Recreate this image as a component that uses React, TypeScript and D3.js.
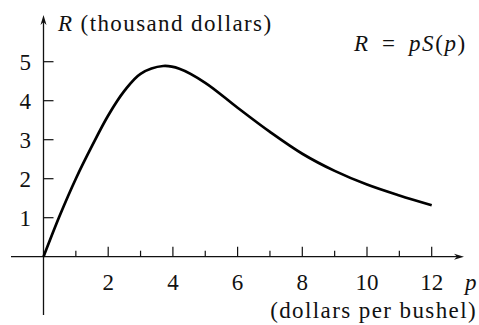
import React from "react";
import * as d3 from "d3";

// Revenue R = p·S(p), in thousands of dollars, against price p (dollars per bushel)
const prices = [0, 0.5, 1, 1.5, 2, 2.5, 3, 3.7, 4.2, 5, 6, 7, 8, 9, 10, 11, 12];
const revenue = [0, 1.05, 2.0, 2.84, 3.62, 4.25, 4.69, 4.89, 4.82, 4.46, 3.82, 3.2, 2.64, 2.2, 1.85, 1.57, 1.32];

const xTicks = [1, 2, 3, 4, 5, 6, 7, 8, 9, 10, 11, 12];
const xLabels = [2, 4, 6, 8, 10, 12];
const yTicks = [1, 2, 3, 4, 5];

const W = 479;
const H = 325;
const FONT = "Liberation Serif, DejaVu Serif, serif";

export default function App() {
  const x = d3.scaleLinear().domain([0, 12]).range([43.5, 431.7]);
  const y = d3.scaleLinear().domain([0, 5]).range([256.7, 61.7]);

  const pts: [number, number][] = prices.map((p, i) => [p, revenue[i]]);
  const line = d3
    .line<[number, number]>()
    .x((d) => x(d[0]))
    .y((d) => y(d[1]))
    .curve(d3.curveCatmullRom.alpha(0.5));

  const x0 = x(0);
  const y0 = y(0);
  const axisColor = "#111";
  const txt = { fontFamily: FONT, fontSize: 23, fill: "#111" } as const;
  const wide = { ...txt, letterSpacing: 1.4 } as const;

  return (
    <svg
      width={W}
      height={H}
      viewBox={`0 0 ${W} ${H}`}
      style={{ position: "absolute", left: 0, top: 0, background: "#fff" }}
    >
      {/* axes */}
      <line x1={11} y1={y0} x2={460} y2={y0} stroke={axisColor} strokeWidth={1.3} />
      <line x1={x0} y1={315} x2={x0} y2={20} stroke={axisColor} strokeWidth={1.3} />
      {/* arrowheads */}
      <path
        d={`M ${x0} ${15} L ${x0 + 3} ${25} L ${x0} ${22} L ${x0 - 3} ${25} Z`}
        fill={axisColor}
      />
      <path
        d={`M ${464} ${y0} L ${454} ${y0 - 3} L ${457} ${y0} L ${454} ${y0 + 3} Z`}
        fill={axisColor}
      />

      {/* x ticks: taller on even prices */}
      {xTicks.map((t) => (
        <line
          key={`xt${t}`}
          x1={x(t)}
          x2={x(t)}
          y1={y0}
          y2={y0 - (t % 2 === 0 ? 10 : 6)}
          stroke={axisColor}
          strokeWidth={1.2}
        />
      ))}
      {xLabels.map((t) => (
        <text key={`xl${t}`} x={x(t)} y={290} textAnchor="middle" style={txt}>
          {t}
        </text>
      ))}

      {/* y ticks */}
      {yTicks.map((t) => (
        <line
          key={`yt${t}`}
          x1={x0}
          x2={x0 + 10}
          y1={y(t)}
          y2={y(t)}
          stroke={axisColor}
          strokeWidth={1.2}
        />
      ))}
      {yTicks.map((t) => (
        <text key={`yl${t}`} x={31} y={y(t) + 8} textAnchor="end" style={txt}>
          {t}
        </text>
      ))}

      {/* revenue curve */}
      <path d={line(pts) || ""} fill="none" stroke="#000" strokeWidth={2.7} />

      {/* labels */}
      <text x={58} y={31} style={wide}>
        <tspan fontStyle="italic">R</tspan> (thousand dollars)
      </text>
      <text x={354} y={51} style={{ ...txt, letterSpacing: 1.6, wordSpacing: 5 }}>
        <tspan fontStyle="italic">R</tspan> = <tspan fontStyle="italic">pS</tspan>(<tspan fontStyle="italic">p</tspan>)
      </text>
      <text x={465} y={290} style={{ ...txt, fontStyle: "italic" }}>
        p
      </text>
      <text x={477} y={318} textAnchor="end" style={wide}>
        (dollars per bushel)
      </text>
    </svg>
  );
}
